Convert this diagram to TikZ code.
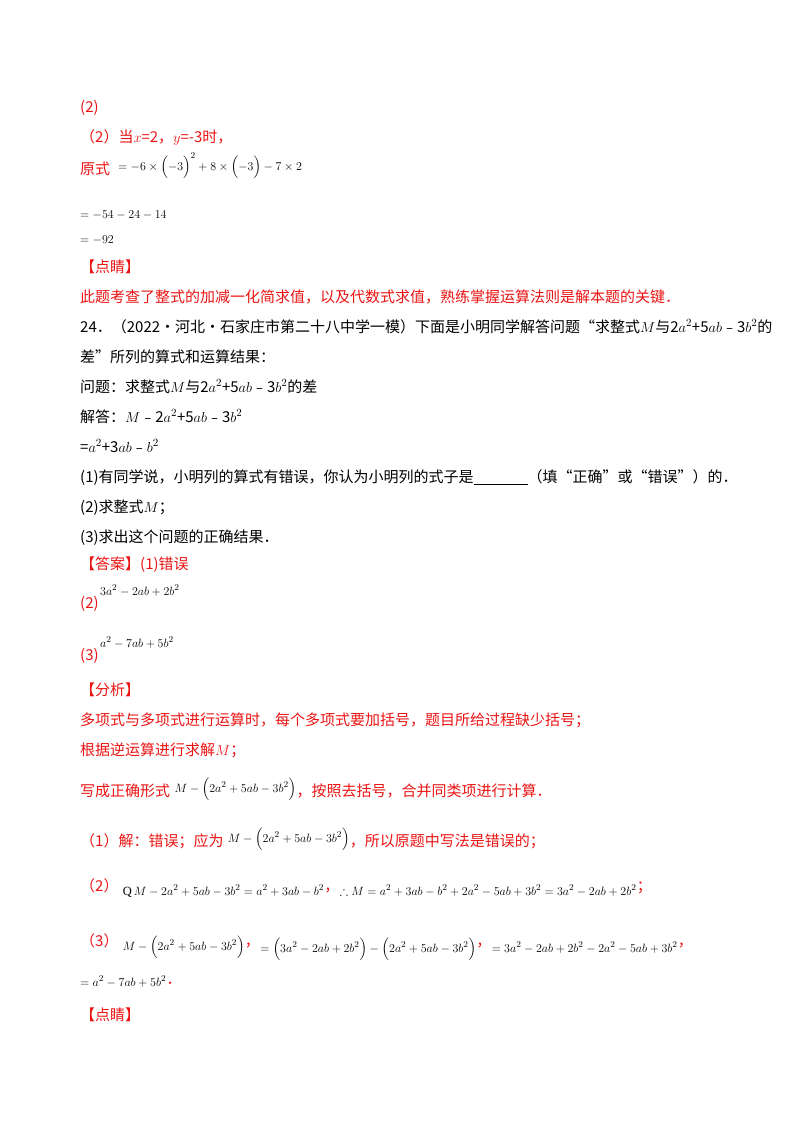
\documentclass[tikz,border=0pt]{standalone}
\usepackage{amssymb}
\usepackage{fontspec}
\setmainfont{Liberation Serif}
\newfontfamily\cjk{Noto Sans CJK SC}
\definecolor{rd}{RGB}{235,20,20}
\begin{document}
\begin{tikzpicture}[x=1pt,y=-1pt,
  t/.style={anchor=base west,inner sep=0pt,font=\fontsize{15}{15}\selectfont\cjk},
  r/.style={t,text=rd},
  m/.style={anchor=base west,inner sep=0pt,font=\fontsize{12.5}{13}\selectfont}]
\useasboundingbox (0,0) rectangle (800,1132);
\node[r] (a1) at (80,112) {(2)};
\node[r] (a2) at (80,142) {（2）当$x$=2，$y$=-3时，};
\node[r] (a3) at (80,174) {原式};
\node[m] (a3m) at (118,170) {$=-6\times\Bigl(-3\Bigr)^2+8\times\Bigl(-3\Bigr)-7\times2$};
\node[m] (a4) at (80,218) {$=-54-24-14$};
\node[m] (a5) at (80,243) {$=-92$};
\node[r] (a6) at (80,272) {【点睛】};
\node[r] (a7) at (80,302) {此题考查了整式的加减一化简求值，以及代数式求值，熟练掌握运算法则是解本题的关键．};
\node[t] (b1) at (80,332) {24．（2022·河北·石家庄市第二十八中学一模）下面是小明同学解答问题“求整式$M$与2$a^2$+5$ab$﹣3$b^2$的};
\node[t] (b2) at (80,362) {差”所列的算式和运算结果：};
\node[t] (b3) at (80,392) {问题：求整式$M$与2$a^2$+5$ab$﹣3$b^2$的差};
\node[t] (b4) at (80,422) {解答：$M$﹣2$a^2$+5$ab$﹣3$b^2$};
\node[t] (b5) at (80,452) {=$a^2$+3$ab$﹣$b^2$};
\node[t] (b6) at (80,482) {(1)有同学说，小明列的算式有错误，你认为小明列的式子是\underline{\hspace{54pt}}（填“正确”或“错误”）的．};
\node[t] (b7) at (80,512) {(2)求整式$M$；};
\node[t] (b8) at (80,542) {(3)求出这个问题的正确结果．};
\node[r] (c1) at (80,569) {【答案】(1)错误};
\node[r] (c2) at (80,608) {(2)};
\node[m] (c2m) at (100,595) {$3a^2-2ab+2b^2$};
\node[r] (c3) at (80,660) {(3)};
\node[m] (c3m) at (100,647) {$a^2-7ab+5b^2$};
\node[r] (d1) at (80,695) {【分析】};
\node[r] (d2) at (80,725) {多项式与多项式进行运算时，每个多项式要加括号，题目所给过程缺少括号；};
\node[r] (d3) at (80,755) {根据逆运算进行求解$M$；};
\node[r] (d4) at (80,796) {写成正确形式};
\node[m] (d4m) at (d4.base east) [xshift=4pt,yshift=4pt] {$M-\Bigl(2a^2+5ab-3b^2\Bigr)$};
\node[r] (d4b) at (d4m.base east) [yshift=-4pt] {，按照去括号，合并同类项进行计算．};
\node[r] (e1) at (80,846) {（1）解：错误；应为};
\node[m] (e1m) at (e1.base east) [xshift=4pt,yshift=4pt] {$M-\Bigl(2a^2+5ab-3b^2\Bigr)$};
\node[r] (e1b) at (e1m.base east) [yshift=-4pt] {，所以原题中写法是错误的；};
\node[r] (e2) at (80,891) {（2）};
\node[m] (e2m) at (e2.base east) [xshift=4pt,yshift=-4pt] {Q$\,M-2a^2+5ab-3b^2=a^2+3ab-b^2$};
\node[r] (e2b) at (e2m.base east) [yshift=4pt] {，};
\node[m] (e2c) at (e2b.base east) [yshift=-4pt] {$\therefore M=a^2+3ab-b^2+2a^2-5ab+3b^2=3a^2-2ab+2b^2$};
\node[r] (e2d) at (e2c.base east) [yshift=4pt] {；};
\node[r] (e3) at (80,946) {（3）};
\node[m] (e3m) at (e3.base east) [xshift=4pt,yshift=-4pt] {$M-\Bigl(2a^2+5ab-3b^2\Bigr)$};
\node[r] (e3b) at (e3m.base east) [yshift=4pt] {，};
\node[m] (e3c) at (e3b.base east) [yshift=-6pt] {$=\Bigl(3a^2-2ab+2b^2\Bigr)-\Bigl(2a^2+5ab-3b^2\Bigr)$};
\node[r] (e3d) at (e3c.base east) [yshift=6pt] {，};
\node[m] (e3e) at (e3d.base east) [yshift=-6pt] {$=3a^2-2ab+2b^2-2a^2-5ab+3b^2$};
\node[r] (e3f) at (e3e.base east) [yshift=6pt] {，};
\node[m] (e4) at (80,986) {$=a^2-7ab+5b^2$};
\node[r] (e4b) at (e4.base east) [yshift=2pt] {．};
\node[r] (f1) at (80,1020) {【点睛】};
\end{tikzpicture}
\end{document}
